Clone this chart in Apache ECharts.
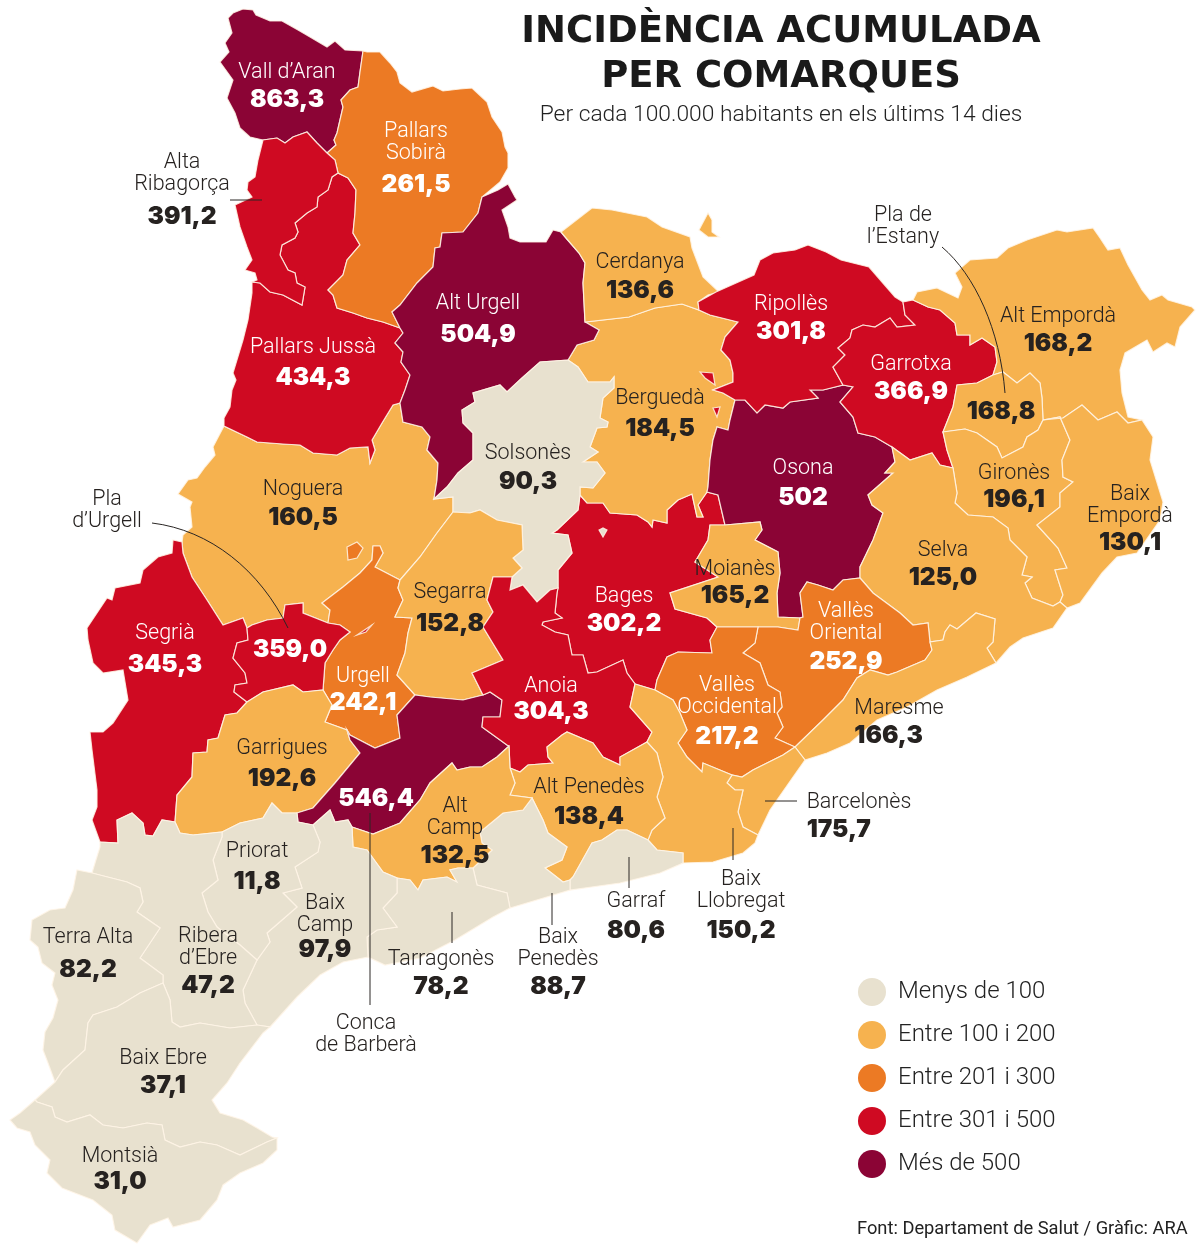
<!DOCTYPE html>
<html>
<head>
<meta charset="utf-8">
<style>html,body{margin:0;background:#fff}#chart{width:1200px;height:1250px}</style>
</head>
<body>
<div id="chart"></div>
<script src="https://cdn.jsdelivr.net/npm/echarts@6/dist/echarts.min.js"></script>
<script>
// dades
var comarques = ["Vall d'Aran","Pallars Sobirà","Alta Ribagorça","Pallars Jussà","Alt Urgell","Cerdanya","Ripollès","Pla de l'Estany","Alt Empordà","Garrotxa","Berguedà","Solsonès","Osona","Noguera","Gironès","Baix Empordà","Selva","Moianès","Segarra","Bages","Vallès Oriental","Segrià","Pla d'Urgell","Urgell","Anoia","Vallès Occidental","Maresme","Garrigues","Conca de Barberà","Alt Penedès","Alt Camp","Priorat","Barcelonès","Baix Llobregat","Garraf","Baix Camp","Terra Alta","Ribera d'Ebre","Tarragonès","Baix Penedès","Baix Ebre","Montsià"];
var incidencia = [863.3,261.5,391.2,434.3,504.9,136.6,301.8,168.8,168.2,366.9,184.5,90.3,502,160.5,196.1,130.1,125.0,165.2,152.8,302.2,252.9,345.3,359.0,242.1,304.3,217.2,166.3,192.6,546.4,138.4,132.5,11.8,175.7,150.2,80.6,97.9,82.2,47.2,78.2,88.7,37.1,31.0];
var trams = ['Menys de 100','Entre 100 i 200','Entre 201 i 300','Entre 301 i 500','Més de 500'];
var colors = ['#e8e1cf','#f6b24f','#ec7a24','#cf0a22','#8b0435'];

// traçat de les fronteres, en pixels de la imatge
var arcs = {
  aran_out:'263,140 250,137 240,128 235,113 227,98 233,80 220,62 229,52 225,43 232,33 228,18 233,13 243,9 253,10 256,15 270,21 282,21 298,30 310,37 327,47 335,41 345,50 363,51',
  aran_sob:'363,51 360,72 358,87 350,90 341,100 343,107 337,133 334,140 336,145 327,153',
  aran_rib:'327,153 317,143 307,132 293,137 285,143 277,138 263,140',
  sob_out:'363,51 367,52 380,52 390,63 397,72 400,83 412,92 433,86 443,91 460,89 472,88 487,102 492,117 502,132 505,147 508,153 508,168 500,182 482,197',
  sob_urg:'482,197 478,213 463,232 442,233 440,247 435,248 433,267 417,283 400,305 392,312 400,328',
  sob_jus:'400,328 383,322 367,318 353,313 337,308 333,295 328,290 343,275 347,260 360,245 353,233 355,213 356,190 348,178 338,173',
  sob_rib:'338,173 335,160 327,153',
  rib_jus:'338,173 332,177 328,190 318,197 317,207 307,213 295,223 298,232 295,238 282,245 280,255 288,270 295,273 297,283 305,287 302,305 283,295 270,292 260,283 252,282',
  rib_out:'263,140 258,160 255,177 248,182 247,190 252,197 235,205 240,227 247,247 252,260 245,270 255,273 257,280 252,282',
  jus_out:'252,282 252,293 248,320 243,340 233,373 236,380 232,390 230,407 224,418 224,426',
  jus_nog:'224,426 247,437 257,442 283,444 300,445 313,453 337,455 350,448 368,447 370,463 375,450 372,440 382,423 393,405 400,403',
  jus_urg:'400,328 403,333 395,343 403,352 401,362 410,375 405,390 400,403',
  urg_out:'482,197 498,190 508,184 515,197 517,200 502,210 508,227 510,238 520,242 546,242 553,230 561,232',
  urg_cer:'561,232 566,238 579,253 585,263 583,283 585,322',
  urg_ber:'585,322 599,330 594,340 577,345 568,360',
  urg_sol:'568,360 540,362 522,378 507,392 500,385 473,393 475,402 462,410 463,423 473,433 473,460 458,473 447,487 434,499',
  urg_nog:'400,403 403,422 422,427 430,437 427,450 438,463 437,480 434,499',
  cer_out:'561,232 592,208 612,210 647,217 662,227 690,237 692,248 703,277 719,292 708,295 698,302',
  cer_rip:'698,302 699,310',
  cer_ber:'585,322 629,317 655,308 682,304 699,310',
  rip_out:'698,302 716,292 754,275 760,260 773,253 795,250 808,245 826,252 841,260 869,267 882,282 895,297 903,302',
  rip_gar:'903,302 905,315 915,325 897,327 890,318 875,327 863,325 852,330 850,338 838,348 845,355 833,367 843,385',
  rip_oso:'843,385 823,390 810,390 818,398 790,402 783,408 765,405 757,413 745,400 735,400',
  ber_rip:'699,310 710,315 738,322 725,337 721,350 730,360 733,373 733,382 713,390 723,393 735,400',
  ber_oso:'735,400 733,408 730,420 728,430 717,427 713,440 710,460 708,487 707,492',
  ber_bag:'707,492 698,505 703,517 697,517 692,494 678,500 667,510 667,523 653,520 652,527 648,522 637,515 610,513 603,503 587,503 580,495',
  ber_sol:'580,495 580,487 593,488 605,473 597,462 583,462 598,452 590,447 597,428 607,427 608,422 600,418 603,398 614,388 614,377 610,382 588,382 578,367 568,360',
  sol_bag:'580,495 578,510 557,530 552,533 568,535 572,553 558,570 558,588',
  sol_ano:'558,588 550,590 537,602 523,585 510,590 512,577',
  sol_seg:'512,577 522,568 513,558 523,550 522,525 497,520 480,510 470,513 453,512',
  sol_nog:'434,499 453,497 453,512',
  nog_seg:'453,512 437,533 420,557 400,580',
  nog_urg:'400,580 375,567 383,553 380,546 373,546 372,560 360,573 343,587 322,603 330,610 328,623',
  nog_pla:'328,623 303,613 303,603 285,605 283,618 267,620 252,625 247,628',
  nog_sgr:'247,628 243,618 223,625 207,600 192,577 183,553 182,542',
  nog_out:'182,542 183,535 192,527 190,507 192,502 178,494 188,480 197,478 205,467 215,455 213,447 224,426',
  seg_urg:'400,580 398,588 403,600 395,617 412,618 408,633 405,653 397,675 415,695',
  seg_con:'415,695 430,697 463,700 483,695',
  seg_ano:'483,695 472,673 503,660 483,627 493,612 487,600 493,577 512,577',
  urg_gar:'323,690 332,705 325,722 347,730',
  urg_con:'347,730 350,735 375,748 400,738 397,715 415,695',
  pla_urg:'328,623 340,625 350,632 340,640 333,650 325,663 323,690',
  pla_sgr:'247,628 248,640 237,643 233,658 245,673 247,683 235,685 234,692 247,702',
  pla_gar:'247,702 263,692 293,685 303,692 323,690',
  sgr_out:'182,542 173,540 172,553 158,557 143,570 140,583 115,588 112,600 107,598 87,628 88,640 93,663 103,673 123,670 128,700 113,723 103,732 90,732 92,750 97,790 97,807 92,820 100,842',
  sgr_rib:'100,842 118,843 117,820 132,813 143,823 145,835 153,836 162,820 175,822',
  sgr_gar:'175,822 177,795 192,777 193,753 207,752 208,740 218,738 225,715 237,713 247,702',
  gar_rib:'175,822 180,833 193,835 222,832',
  gar_pri:'222,832 240,823 263,818 272,803 282,813 297,813',
  gar_con:'297,813 313,808 320,800 335,783 360,753 350,740 347,730',
  con_pri:'297,813 298,822 313,825',
  con_bcm:'313,825 330,810 335,822 348,820 352,827',
  con_alc:'352,827 373,834 400,823 420,800 430,783 452,763 457,770 470,767 482,767 497,757 509,746',
  con_ano:'509,746 507,745 482,727 483,717 500,717 502,700 490,692 483,695',
  ano_bag:'558,588 557,593 555,613 562,618 543,622 542,625 555,632 568,635 572,655 583,655 588,673 597,672 623,660 627,673 635,684',
  bag_bll:'635,684 655,690',
  ano_bll:'635,684 630,707 652,732 647,742',
  bag_voc:'655,690 657,680 667,657 678,652 712,653 710,640 717,627',
  moi_bag:'717,627 707,618 675,609 670,593 718,577 695,562 708,540 710,525 725,525',
  bag_oso:'707,492 718,495 725,525',
  moi_oso:'725,525 760,522 762,530 755,540 778,552 780,573 777,593 778,617 800,618',
  moi_vor:'800,618 798,630 778,627 758,627',
  moi_voc:'758,627 717,627',
  oso_vor:'800,618 803,617 800,593 807,582 818,585 833,590 843,580 860,578',
  oso_sel:'860,578 860,567 873,540 883,513 872,505 868,495 893,473 885,473 895,462 892,447',
  oso_gar:'892,447 875,437 858,433 853,417 840,402 853,387 843,385',
  gar_top:'903,302 913,300',
  gar_emp:'913,300 928,307 940,310 955,323 957,335 970,335 970,345 982,338 995,347 997,362 993,375',
  gar_pla:'993,375 977,383 957,385 953,407 943,432',
  gar_gir:'943,432 947,450 953,468',
  gar_sel:'953,468 940,465 932,453 910,460 892,447',
  emp_out:'913,300 917,292 937,288 958,298 962,287 955,273 970,260 997,258 1008,248 1027,240 1057,230 1067,232 1093,228 1100,238 1108,250 1120,248 1128,265 1142,290 1150,300 1162,295 1168,300 1192,307 1195,310 1180,327 1175,347 1167,343 1153,352 1147,340 1125,353 1120,370 1122,393 1128,417 1142,420',
  emp_bai:'1142,420 1128,423 1117,412 1098,420 1082,405 1063,418 1043,420',
  emp_pla:'1043,420 1042,398 1040,383 1030,373 1017,383 1003,372 993,375',
  pla_gir:'943,432 965,429 977,433 997,447 1002,458 1023,447 1027,437 1038,430 1043,420',
  gir_bai:'1043,420 1060,417 1070,440 1062,460 1063,477 1073,482 1060,493 1060,507 1037,525 1058,548 1067,568 1055,570 1063,595 1060,602',
  gir_sel:'953,468 957,493 955,503 968,515 993,517 1008,528 1010,540 1027,557 1022,575 1032,577 1025,583 1032,598 1053,606 1060,602',
  bai_out:'1142,420 1153,437 1150,460 1163,502 1160,520 1137,553 1117,557 1102,573 1080,603 1067,608',
  bai_sel:'1067,608 1060,602',
  sel_coast:'1067,608 1053,628 1023,638 1010,647 996,663',
  sel_mar:'996,663 987,648 993,642 995,619 976,613 957,629 950,625 945,632 943,640 930,642 932,650',
  mar_coast:'996,663 967,677 937,690 907,707 877,720 850,743 827,753 805,760',
  mar_bar:'805,760 795,747',
  mar_vor:'932,650 925,660 897,672 888,675 870,670 857,678 843,700 823,720 795,747',
  vor_sel:'860,578 873,593 900,613 913,625 928,623 930,642 932,650',
  voc_vor:'758,627 755,643 743,653 760,663 768,685 780,692 782,707 777,713 783,727 775,738 795,747',
  voc_bar:'795,747 783,755 753,770 742,777 732,775',
  voc_bll:'732,775 703,763 702,772 687,757 678,743 687,730 680,713 673,700 655,690',
  bar_bll:'732,775 727,783 735,790 743,790 738,812 743,827 758,835',
  bar_out:'758,835 770,810 793,777 805,760',
  bll_out:'758,835 755,843 743,853 713,862 683,863',
  bll_gar:'683,863 683,853 657,850 648,840',
  bll_ape:'648,840 652,830 665,818 657,797 663,777 657,753 647,742',
  ape_ano:'647,742 620,757 620,765 603,757 593,743 567,732 562,735 547,747 548,757 553,763 528,765 520,772 510,768',
  ano_alc:'510,768 509,746',
  ape_gaf:'648,840 627,830 617,830 602,840 592,843 573,877 570,880',
  ape_bpn:'570,880 563,882 545,868 562,860 567,847 548,833 543,820 532,798',
  ape_alc:'532,798 510,795 515,783 510,768',
  gaf_out:'683,863 660,873 620,883 570,890',
  gaf_bpn:'570,880 570,890',
  bpn_out:'570,890 510,908',
  bpn_tar:'510,908 507,893 477,885 473,868',
  alc_bpn:'532,798 523,810 503,813 480,832 482,843 492,850 473,868',
  alc_tar:'473,868 458,868 450,870 457,882 447,877 423,880 418,890 410,880 397,878',
  alc_bcm:'397,878 383,872 367,850 353,847 352,827',
  tar_bcm:'397,878 397,893 383,908 397,927 377,930 367,937 368,957',
  tar_out:'368,957 385,965 420,958 455,940 493,917 510,908',
  bcm_out:'368,957 343,962 320,975 297,997 270,1027',
  bcm_ebr:'270,1027 257,1025',
  rib_bcm:'257,1025 245,1003 243,990 257,960',
  pri_bcm:'313,825 320,842 318,852 295,867 302,888 283,893 297,907 267,933 270,942 257,960',
  pri_rib:'222,832 222,837 213,860 218,880 202,893 208,912 217,927 240,945 257,960',
  rib_ebr:'257,1025 230,1028 200,1023 180,1027 172,1022 170,1000 163,983',
  rib_tal:'92,873 127,882 140,888 143,902 137,912 160,928 140,958 163,975 163,983',
  rbe_out:'100,842 100,847 95,863 92,873',
  tal_out:'92,873 77,870 73,890 65,908 50,910 32,920 30,940 38,947 42,963 55,973 52,985 58,1000 53,1018 45,1032 43,1050 48,1063 55,1082',
  tal_ebr:'163,983 140,993 117,1007 93,1015 88,1023 85,1050 63,1070 55,1082',
  ebr_out:'55,1082 35,1100',
  ebr_coast:'270,1027 263,1033 240,1063 227,1083 212,1100 220,1113 243,1120 257,1128 272,1137 277,1138',
  ebr_mon:'277,1138 267,1142 240,1155 217,1145 200,1142 180,1147 165,1140 162,1125 147,1123 123,1128 103,1125 90,1115 67,1122 55,1117 52,1107 37,1102 35,1100',
  mon_out:'35,1100 20,1113 10,1120 17,1128 30,1132 35,1145 50,1160 47,1173 62,1188 93,1200 112,1215 115,1230 137,1243 150,1225 168,1218 173,1227 200,1220 217,1200 223,1185 240,1173 263,1163 277,1150 277,1138'
};

// cada comarca: arcs de la vora, en ordre (els amfitrions d'enclavaments primer)
var rings = {
  "Noguera":'nog_out jus_nog urg_nog sol_nog nog_seg nog_urg nog_pla nog_sgr',
  "Segrià":'sgr_out sgr_rib sgr_gar pla_sgr nog_sgr',
  "Bages":'sol_bag ano_bag bag_bll bag_voc moi_bag bag_oso ber_bag',
  "Berguedà":'cer_ber ber_rip ber_oso ber_bag ber_sol urg_ber',
  "Osona":'ber_oso bag_oso moi_oso oso_vor oso_sel oso_gar rip_oso',
  "Urgell":'nog_urg pla_urg urg_gar urg_con seg_urg',
  "Pallars Jussà":'jus_out jus_nog jus_urg sob_jus rib_jus',
  "Vall d'Aran":'aran_out aran_sob aran_rib',
  "Pallars Sobirà":'sob_out sob_urg sob_jus sob_rib aran_sob',
  "Alta Ribagorça":'rib_out rib_jus sob_rib aran_rib',
  "Alt Urgell":'urg_out urg_cer urg_ber urg_sol urg_nog jus_urg sob_urg',
  "Cerdanya":'cer_out cer_rip cer_ber urg_cer',
  "Ripollès":'rip_out rip_gar rip_oso ber_rip cer_rip',
  "Garrotxa":'gar_top gar_emp gar_pla gar_gir gar_sel oso_gar rip_gar',
  "Alt Empordà":'emp_out emp_bai emp_pla gar_emp',
  "Pla de l'Estany":'emp_pla gar_pla pla_gir',
  "Gironès":'gar_gir gir_sel gir_bai pla_gir',
  "Baix Empordà":'bai_out bai_sel gir_bai emp_bai',
  "Selva":'oso_sel gar_sel gir_sel bai_sel sel_coast sel_mar vor_sel',
  "Solsonès":'urg_sol sol_nog sol_seg sol_ano sol_bag ber_sol',
  "Segarra":'nog_seg seg_urg seg_con seg_ano sol_seg',
  "Moianès":'moi_bag moi_oso moi_vor moi_voc',
  "Pla d'Urgell":'nog_pla pla_sgr pla_gar pla_urg',
  "Garrigues":'sgr_gar pla_gar urg_gar gar_con gar_pri gar_rib',
  "Conca de Barberà":'gar_con urg_con seg_con con_ano con_alc con_bcm con_pri',
  "Anoia":'sol_ano ano_bag ano_bll ape_ano ano_alc con_ano seg_ano',
  "Vallès Oriental":'moi_vor voc_vor mar_vor vor_sel oso_vor',
  "Vallès Occidental":'moi_voc bag_voc voc_bll voc_bar voc_vor',
  "Maresme":'sel_mar mar_coast mar_bar mar_vor',
  "Barcelonès":'voc_bar bar_bll bar_out mar_bar',
  "Baix Llobregat":'ano_bll bll_ape bll_gar bll_out bar_bll voc_bll bag_bll',
  "Alt Penedès":'ape_ano bll_ape ape_gaf ape_bpn ape_alc',
  "Garraf":'ape_gaf bll_gar gaf_out gaf_bpn',
  "Baix Penedès":'ape_bpn alc_bpn bpn_tar bpn_out gaf_bpn',
  "Alt Camp":'con_alc ano_alc ape_alc alc_bpn alc_tar alc_bcm',
  "Tarragonès":'alc_tar bpn_tar tar_out tar_bcm',
  "Baix Camp":'con_bcm alc_bcm tar_bcm bcm_out bcm_ebr rib_bcm pri_bcm',
  "Priorat":'con_pri gar_pri pri_rib pri_bcm',
  "Ribera d'Ebre":'sgr_rib gar_rib pri_rib rib_bcm rib_ebr rib_tal rbe_out',
  "Terra Alta":'rib_tal tal_ebr tal_out',
  "Baix Ebre":'rib_ebr bcm_ebr ebr_coast ebr_mon ebr_out tal_ebr',
  "Montsià":'ebr_mon mon_out'
};

// trossos solts
var enclaus = {
  "Cerdanya":['699,230 708,213 712,220 712,232 719,237 708,237'],
  "Pallars Jussà":['257,273 262,265 270,268 274,275 265,281'],
  "Urgell":['347,547 357,542 363,548 357,558 348,560'],
  "Pla d'Urgell":['357,635 372,625 366,632'],
  "Segrià":['248,682 253,672 267,668 260,680 250,686'],
  "Ripollès":['700,372 713,373 715,385 705,378','713,408 720,407 717,417'],
  "Solsonès":['599,530 603,528 607,530 603,537']
};

// etiquetes: x, y del primer nom, y del valor, línies del nom, alineació
var etiquetes = {
  "Vall d'Aran":[287,71,98],"Pallars Sobirà":[416,130,183,'Pallars\nSobirà'],"Alta Ribagorça":[182,161,215,'Alta\nRibagorça'],
  "Pallars Jussà":[313,346,376],"Alt Urgell":[478,302,333],"Cerdanya":[640,261,289],"Ripollès":[791,303,330],
  "Alt Empordà":[1058,315,342],"Garrotxa":[911,363,390],"Berguedà":[660,397,427],"Solsonès":[528,452,480],"Osona":[803,467,496],
  "Noguera":[303,488,516],"Gironès":[1014,472,498],"Baix Empordà":[1130,493,541,'Baix\nEmpordà'],"Selva":[943,549,576],
  "Moianès":[735,568,594],"Segarra":[450,591,622],"Bages":[624,595,622],"Vallès Oriental":[846,610,660,'Vallès\nOriental'],
  "Segrià":[165,632,663],"Urgell":[363,675,701],"Anoia":[551,685,710],"Vallès Occidental":[727,684,735,'Vallès\nOccidental'],
  "Garrigues":[282,747,777],"Alt Penedès":[589,786,815],"Alt Camp":[455,805,854,'Alt\nCamp'],"Priorat":[257,850,880],
  "Baix Llobregat":[741,878,929,'Baix\nLlobregat'],"Garraf":[636,900,929],"Baix Camp":[325,902,948,'Baix\nCamp'],
  "Terra Alta":[88,936,968],"Ribera d'Ebre":[208,935,984,'Ribera\nd’Ebre'],"Tarragonès":[441,958,985],
  "Baix Penedès":[558,936,985,'Baix\nPenedès'],"Baix Ebre":[163,1057,1084],"Montsià":[120,1155,1180],
  "Maresme":[899,707,734,null,'left'],"Barcelonès":[859,801,828,null,'left'],
  // el nom va a part, amb línia
  "Pla de l'Estany":[1001,0,410,''],"Pla d'Urgell":[290,0,648,''],"Conca de Barberà":[376,0,797,'']
};

function parseLine(s){
  return s.split(' ').map(function(p){ return p.split(',').map(Number); });
}
function dist(a,b){ return Math.abs(a[0]-b[0])+Math.abs(a[1]-b[1]); }
// encadena arcs sense importar-ne el sentit
function buildRing(names){
  var list = names.split(' ').map(function(n){ return parseLine(arcs[n]); });
  var ring = [];
  var next = list[1];
  if (dist(list[0][0],next[0])<1 || dist(list[0][0],next[next.length-1])<1) list[0].reverse();
  list.forEach(function(a){
    if (ring.length && dist(ring[ring.length-1],a[0])>0) a = a.slice().reverse();
    ring = ring.concat(a);
  });
  ring.push(ring[0]);
  return ring;
}

var features = [];
for (var nom in rings) {
  var polys = [[buildRing(rings[nom])]];
  (enclaus[nom]||[]).forEach(function(s){
    var r = parseLine(s); r.push(r[0]); polys.push([r]);
  });
  var et = etiquetes[nom], linies = et[3]==='' ? 0 : (et[3]||nom).split('\n').length;
  var cy = et[2];
  if (linies) {
    var gap = et[2]-(et[1]+(linies-1)*22);
    cy = (et[1]-11) + (22*linies + 2*(gap-11))/2;
  }
  features.push({type:'Feature',properties:{name:nom,cp:[et[0],cy+1.5]},geometry:{type:'MultiPolygon',coordinates:polys}});
}
echarts.registerMap('catalunya',{type:'FeatureCollection',features:features});

var sans = 'Roboto', negre = 'Inter';
function valueText(nom,v){
  return nom==='Osona' ? String(v) : v.toFixed(1).replace('.',',');
}
// blanc sobre els colors forts, fosc per a la resta i fora del mapa
function textColor(nom,v){ return (v>200 && nom!=='Alta Ribagorça') ? '#fff' : '#262220'; }

var seriesData = comarques.map(function(nom,i){
  var v = incidencia[i], et = etiquetes[nom], col = textColor(nom,v);
  var text = et[3]==='' ? '' : (et[3]||nom.replace("'",'’'));
  var linies = text ? text.split('\n') : [];
  var gap = linies.length ? et[2]-(et[1]+(linies.length-1)*22) : 15;
  var parts = linies.map(function(l){ return '{n|'+l+'}'; });
  parts.push('{v|'+valueText(nom,v)+'}');
  return {
    name:nom, value:v,
    label:{
      show:true, formatter:parts.join('\n'), verticalAlign:'middle',
      rich:{
        n:{fontFamily:sans,fontWeight:300,fontSize:21.5,lineHeight:22,color:col,align:et[4]||'center'},
        v:{fontFamily:negre,fontWeight:900,fontSize:24.5,lineHeight:2*(gap-11),color:col,align:et[4]||'center'}
      }
    }
  };
});

// textos solts i línies de crida
var noms = [
  ['Pla de\nl’Estany',903,227],['Pla\nd’Urgell',107,511],['Conca\nde Barberà',366,1035]
];
var rectes = [
  [230,200,262,200],[370,813,370,1005],[452,912,452,943],[552,893,552,925],
  [629,857,629,888],[733,828,733,860],[765,801,797,801]
];
var corbes = [
  [152,523,210,530,260,570,288,628],[942,247,975,275,1000,330,1005,393]
];
var graphics = [];
noms.forEach(function(t){
  graphics.push({type:'text',x:t[1],y:t[2],z:10,style:{text:t[0],align:'center',verticalAlign:'middle',font:'300 21.5px '+sans,lineHeight:22,fill:'#262220'}});
});
rectes.forEach(function(l){
  graphics.push({type:'line',z:10,shape:{x1:l[0],y1:l[1],x2:l[2],y2:l[3]},style:{stroke:'#2a2624',lineWidth:1}});
});
corbes.forEach(function(c){
  graphics.push({type:'bezierCurve',z:10,shape:{x1:c[0],y1:c[1],cpx1:c[2],cpy1:c[3],cpx2:c[4],cpy2:c[5],x2:c[6],y2:c[7]},style:{stroke:'#2a2624',lineWidth:1,fill:'none'}});
});

var chart = echarts.init(document.getElementById('chart'),null,{renderer:'canvas'});
chart.setOption({
  backgroundColor:'#fff',
  animation:false,
  title:[
    {text:'INCIDÈNCIA ACUMULADA\nPER COMARQUES',left:781,top:10,padding:0,textAlign:'center',
     textStyle:{fontFamily:'DejaVu Sans',fontWeight:'bold',fontSize:37,lineHeight:45,color:'#1a1a1a'}},
    {text:'Per cada 100.000 habitants en els últims 14 dies',left:781,top:104,padding:0,textAlign:'center',
     textStyle:{fontFamily:sans,fontWeight:300,fontSize:22.8,color:'#222'}},
    {text:'Font: Departament de Salut / Gràfic: ARA',left:857,top:1220,padding:0,
     textStyle:{fontFamily:sans,fontWeight:400,fontSize:18.3,color:'#222'}}
  ],
  visualMap:{
    type:'piecewise', seriesIndex:0, left:843, top:963, orient:'vertical', align:'left',
    pieces:[
      {max:100,label:trams[0],color:colors[0]},
      {min:100,max:200,label:trams[1],color:colors[1]},
      {min:200,max:300,label:trams[2],color:colors[2]},
      {min:300,max:500,label:trams[3],color:colors[3]},
      {min:500,label:trams[4],color:colors[4]}
    ],
    inverse:true, selectedMode:false, hoverLink:false, itemSymbol:'circle',
    itemWidth:28, itemHeight:28, itemGap:15, textGap:12,
    textStyle:{fontFamily:sans,fontWeight:300,fontSize:24,color:'#222'}
  },
  series:[{
    type:'map', map:'catalunya', silent:true, roam:false,
    projection:{project:function(p){return p;},unproject:function(p){return p;}},
    boundingCoords:[[0,0],[1200,1250]],
    left:0, top:0, width:1200, height:1250,
    itemStyle:{borderColor:'rgba(255,245,230,0.85)',borderWidth:1.2},
    data:seriesData
  }],
  graphic:graphics
});
</script>
</body>
</html>
